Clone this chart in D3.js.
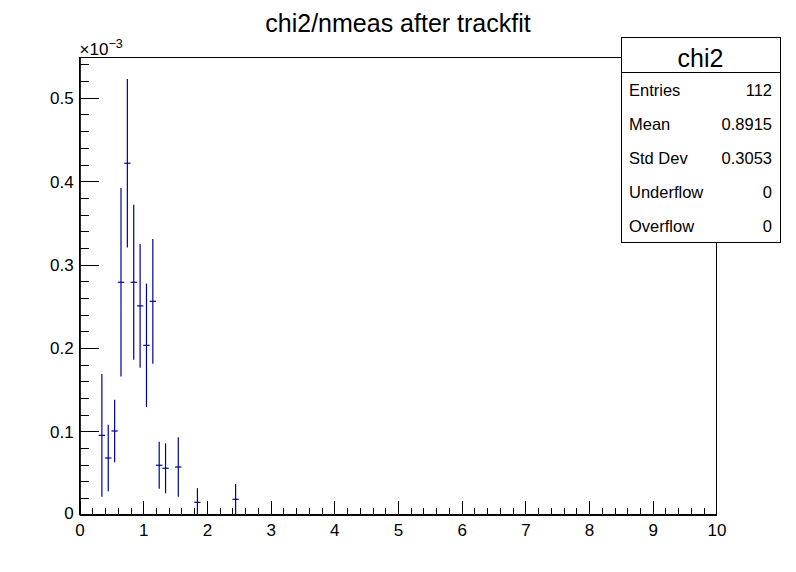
<!DOCTYPE html>
<html>
<head>
<meta charset="utf-8">
<script src="https://cdn.jsdelivr.net/npm/d3@7"></script>
<style>
  html, body { margin: 0; padding: 0; background: #fff; }
  svg { display: block; font-family: "Liberation Sans", Arial, Helvetica, sans-serif; }
</style>
</head>
<body>
<svg id="chart" width="796" height="572"></svg>
<script>
// ---- data (y values in units of 1e-3) ----
const title = "chi2/nmeas after trackfit";
const binCenters = [0.35, 0.45, 0.55, 0.65, 0.75, 0.85, 0.95, 1.05, 1.15, 1.25, 1.35, 1.55, 1.85, 2.45];
const binValues  = [0.0953, 0.0681, 0.1005, 0.2788, 0.4215, 0.2788, 0.2505, 0.2032, 0.2560, 0.0594, 0.0558, 0.0573, 0.0150, 0.0186];
const binErrors  = [0.0736, 0.0400, 0.0375, 0.1130, 0.1010, 0.0930, 0.0742, 0.0740, 0.0748, 0.0282, 0.0300, 0.0358, 0.0170, 0.0182];
const binWidth = 0.1;
const xMajorTicks = [0, 1, 2, 3, 4, 5, 6, 7, 8, 9, 10];
const yMajorTicks = [0, 0.1, 0.2, 0.3, 0.4, 0.5];
const yTickLabels = ["0", "0.1", "0.2", "0.3", "0.4", "0.5"];
const xDomain = [0, 10];
const yDomain = [0, 0.5487];
const statsName = "chi2";
const statsLabels = ["Entries", "Mean", "Std Dev", "Underflow", "Overflow"];
const statsValues = ["112", "0.8915", "0.3053", "0", "0"];

// ---- layout ----
const W = 796, H = 572;
const L = 79.6, R = 716.4, T = 57.2, B = 514.8;
const markColor = "#00009a";
const FF = "Liberation Sans, Arial, sans-serif";
const tickFont = "17px";

const svg = d3.select("#chart");
const x = d3.scaleLinear().domain(xDomain).range([L, R]);
const y = d3.scaleLinear().domain(yDomain).range([B, T]);

const minor = (majors, n) => {
  const out = [];
  for (let i = 0; i < majors.length - 1; i++) {
    const step = (majors[i + 1] - majors[i]) / n;
    for (let k = 1; k < n; k++) out.push(majors[i] + k * step);
  }
  return out;
};
const xMinor = minor(xMajorTicks, 5);
const yMinor = minor(yMajorTicks, 5).concat([0.52, 0.54]);

// frame
svg.append("rect").attr("x", L).attr("y", T).attr("width", R - L).attr("height", B - T)
  .attr("fill", "none").attr("stroke", "#000").attr("stroke-width", 1).attr("shape-rendering", "crispEdges");

// x axis
const gx = svg.append("g").attr("transform", `translate(0,${B})`);
gx.call(d3.axisBottom(x).tickValues(xMajorTicks).tickSizeInner(-13.7).tickSizeOuter(0).tickPadding(0).tickFormat(d3.format("d")));
gx.append("g").call(d3.axisBottom(x).tickValues(xMinor).tickSizeInner(-6.9).tickSizeOuter(0).tickFormat(""));
gx.attr("font-family", FF);
gx.selectAll(".domain").attr("stroke", "#000");
gx.selectAll("line").attr("stroke", "#000").attr("shape-rendering", "crispEdges");
gx.selectAll("text").attr("fill", "#000").style("font-size", tickFont).attr("y", 21.5).attr("dy", null);

// y axis
const gy = svg.append("g").attr("transform", `translate(${L},0)`);
gy.call(d3.axisLeft(y).tickValues(yMajorTicks).tickSizeInner(-19.1).tickSizeOuter(0).tickPadding(0)
  .tickFormat((d, i) => yTickLabels[i]));
gy.append("g").call(d3.axisLeft(y).tickValues(yMinor.filter(v => v <= yDomain[1])).tickSizeInner(-9.6).tickSizeOuter(0).tickFormat(""));
gy.attr("font-family", FF);
gy.selectAll(".domain").attr("stroke", "#000");
gy.selectAll("line").attr("stroke", "#000").attr("shape-rendering", "crispEdges");
gy.selectAll("text").attr("fill", "#000").style("font-size", tickFont).attr("x", -6).attr("dy", "0.35em");
gy.selectAll(".tick").filter(d => d === 0).select("text").attr("dy", "0.22em");

// exponent label
const ex = svg.append("text").attr("x", L).attr("y", 55).style("font-size", "17px").attr("fill", "#000");
ex.append("tspan").text("\u00d710");
ex.append("tspan").attr("dy", -7).style("font-size", "12.5px").text("\u22123");

// data error bars
const pts = binCenters.map((c, i) => ({ c, v: binValues[i], e: binErrors[i] }));
const g = svg.append("g").attr("stroke", markColor).attr("stroke-width", 1.2).attr("fill", "none");
g.selectAll("line.v").data(pts).join("line").attr("class", "v")
  .attr("x1", d => x(d.c)).attr("x2", d => x(d.c))
  .attr("y1", d => y(Math.max(0, d.v - d.e))).attr("y2", d => y(d.v + d.e));
g.selectAll("line.h").data(pts).join("line").attr("class", "h")
  .attr("x1", d => x(d.c - binWidth / 2)).attr("x2", d => x(d.c + binWidth / 2))
  .attr("y1", d => y(d.v)).attr("y2", d => y(d.v));

// title
svg.append("text").attr("x", W / 2).attr("y", 32).attr("text-anchor", "middle")
  .style("font-size", "25px").attr("fill", "#000").text(title);

// stats box
const sx0 = 621, sx1 = 780, sy0 = 37.2, sTitleH = 35.5, rowH = 34;
const sy1 = sy0 + sTitleH + rowH * statsLabels.length;
const sb = svg.append("g");
sb.append("rect").attr("x", sx0).attr("y", sy0).attr("width", sx1 - sx0).attr("height", sy1 - sy0)
  .attr("fill", "#fff").attr("stroke", "#000").attr("shape-rendering", "crispEdges");
sb.append("line").attr("x1", sx0).attr("x2", sx1).attr("y1", sy0 + sTitleH).attr("y2", sy0 + sTitleH)
  .attr("stroke", "#000").attr("shape-rendering", "crispEdges");
sb.append("text").attr("x", (sx0 + sx1) / 2).attr("y", sy0 + 29.5).attr("text-anchor", "middle")
  .style("font-size", "25px").attr("fill", "#000").text(statsName);
statsLabels.forEach((lab, i) => {
  const cy = sy0 + sTitleH + rowH * (i + 0.5);
  sb.append("text").attr("x", sx0 + 8).attr("y", cy + 6).style("font-size", "16.5px").attr("fill", "#000").text(lab);
  sb.append("text").attr("x", sx1 - 8).attr("y", cy + 6).attr("text-anchor", "end").style("font-size", "16.5px").attr("fill", "#000").text(statsValues[i]);
});
</script>
</body>
</html>
